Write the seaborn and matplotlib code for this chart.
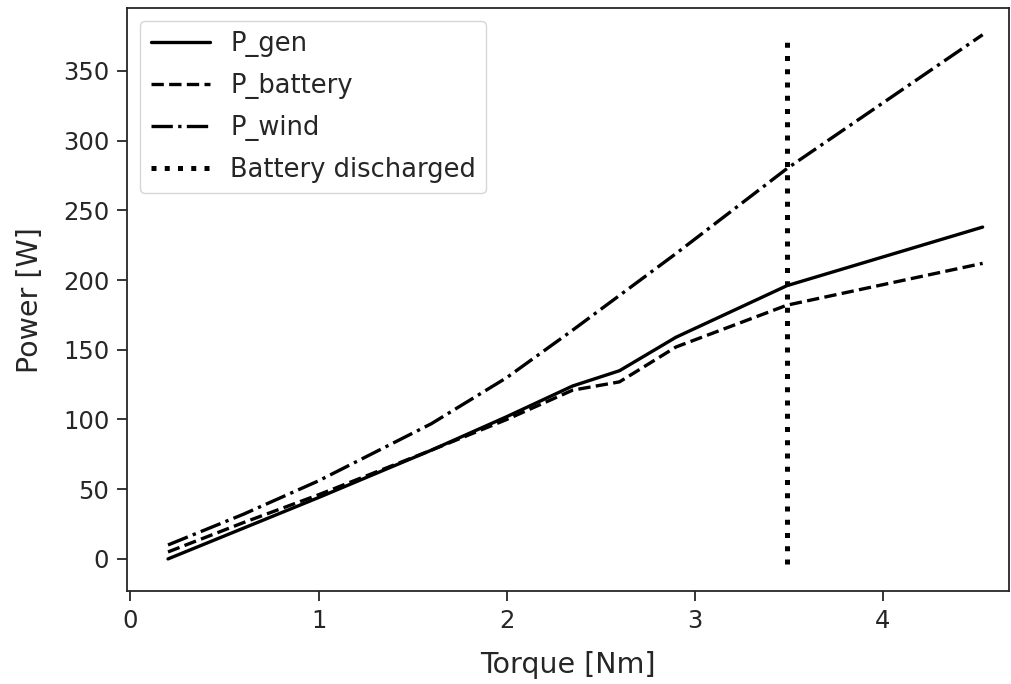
import numpy as np
import pandas as pd
import seaborn as sns
import matplotlib.pyplot as plt

sns.set_style("ticks")
plt.rcParams["font.family"] = ["DejaVu Sans"]

# data
torque = [0.2, 0.6, 1.0, 1.6, 2.0, 2.35, 2.6, 2.9, 3.49, 4.53]
p_gen = [0, 22, 44, 78, 102, 124, 135, 159, 196, 238]
p_battery = [5, 26, 46, 78, 100, 121, 127, 152, 182, 212]
p_wind = [10, 32, 56, 97, 130, 164, 189, 219, 280, 376]
discharge_torque = 3.49
discharge_range = [-4, 376]

fig, ax = plt.subplots(figsize=(10.11, 6.84), dpi=100)

sns.lineplot(x=torque, y=p_gen, color="black", lw=2.4, label="P_gen", ax=ax)
sns.lineplot(x=torque, y=p_battery, color="black", lw=2.4, linestyle="--", label="P_battery", ax=ax)
sns.lineplot(x=torque, y=p_wind, color="black", lw=2.4, linestyle="-.", label="P_wind", ax=ax)
ax.vlines(discharge_torque, discharge_range[0], discharge_range[1], colors="black",
          linestyles=":", lw=3.6, label="Battery discharged")

ax.set_xlim(-0.016, 4.67)
ax.set_xlabel("Torque [Nm]", fontsize=20.5, labelpad=13)
ax.set_ylabel("Power [W]", fontsize=20.5, labelpad=14)
ax.tick_params(labelsize=17.5, length=7, width=1.3, pad=6)
for s in ax.spines.values():
    s.set_linewidth(1.3)
ax.legend(loc="upper left", fontsize=18.5, handlelength=2.3, labelspacing=0.62,
          borderaxespad=0.5)

plt.subplots_adjust(left=0.126, right=0.998, top=0.988, bottom=0.136)
plt.savefig("out.png", dpi=100)
